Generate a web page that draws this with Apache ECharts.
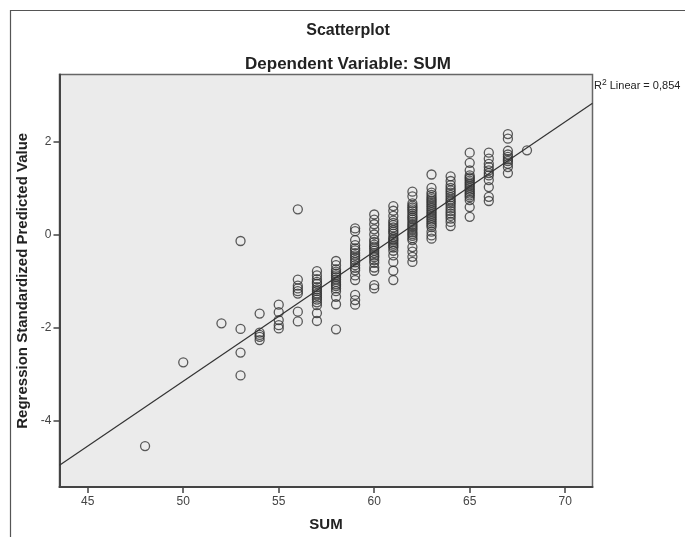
<!DOCTYPE html>
<html>
<head>
<meta charset="utf-8">
<title>Scatterplot</title>
<script src="https://cdn.jsdelivr.net/npm/echarts@6/dist/echarts.min.js"></script>
<style>
    html, body { margin: 0; padding: 0; background: #fff; }
    #chart { width: 685px; height: 537px; }
</style>
</head>
<body>
<div id="chart"></div>
<script>
// SUM score levels and the standardized predicted values at each level
var sumLevels = [48, 50, 52, 53, 54, 55, 56, 57, 58, 59, 60, 61, 62, 63, 64, 65, 66, 67, 68];
var predictedValues = [
    [-4.55],
    [-2.75],
    [-1.91],
    [-0.14, -2.03, -2.54, -3.03],
    [-1.70, -2.11, -2.16, -2.20, -2.27],
    [-1.51, -1.67, -1.84, -1.95, -2.02],
    [0.54, -0.97, -1.10, -1.16, -1.22, -1.27, -1.66, -1.87],
    [-0.79, -0.88, -0.96, -1.02, -1.06, -1.13, -1.18, -1.22, -1.27, -1.31, -1.36, -1.40, -1.46, -1.52, -1.69, -1.86],
    [-0.57, -0.66, -0.75, -0.80, -0.84, -0.88, -0.92, -0.97, -1.02, -1.07, -1.11, -1.16, -1.22, -1.34, -1.50, -2.04],
    [0.13, 0.07, -0.12, -0.23, -0.30, -0.34, -0.40, -0.45, -0.50, -0.55, -0.60, -0.66, -0.72, -0.77, -0.88, -0.98, -1.30, -1.41, -1.51],
    [0.43, 0.32, 0.22, 0.11, 0.00, -0.11, -0.16, -0.22, -0.26, -0.30, -0.35, -0.40, -0.45, -0.49, -0.55, -0.61, -0.71, -0.78, -1.09, -1.16],
    [0.61, 0.51, 0.40, 0.30, 0.25, 0.20, 0.15, 0.10, 0.06, 0.02, -0.05, -0.09, -0.12, -0.16, -0.20, -0.24, -0.28, -0.35, -0.45, -0.59, -0.78, -0.98],
    [0.92, 0.82, 0.67, 0.62, 0.58, 0.54, 0.50, 0.45, 0.40, 0.36, 0.32, 0.27, 0.22, 0.18, 0.14, 0.10, 0.05, 0.01, -0.03, -0.08, -0.12, -0.27, -0.37, -0.48, -0.59],
    [1.29, 1.00, 0.90, 0.85, 0.80, 0.76, 0.72, 0.68, 0.64, 0.60, 0.56, 0.52, 0.48, 0.44, 0.40, 0.36, 0.32, 0.28, 0.24, 0.20, 0.16, 0.06, -0.02, -0.09],
    [1.25, 1.15, 1.06, 1.00, 0.95, 0.90, 0.85, 0.80, 0.75, 0.71, 0.67, 0.62, 0.56, 0.50, 0.45, 0.40, 0.34, 0.27, 0.18],
    [1.76, 1.54, 1.38, 1.27, 1.23, 1.20, 1.16, 1.12, 1.08, 1.04, 1.00, 0.96, 0.92, 0.88, 0.84, 0.80, 0.74, 0.59, 0.38],
    [1.76, 1.63, 1.52, 1.45, 1.38, 1.32, 1.27, 1.17, 1.02, 0.81, 0.72],
    [2.16, 2.06, 1.80, 1.72, 1.67, 1.62, 1.58, 1.52, 1.45, 1.32],
    [1.81]
];
// fit line end points, read at the plot edges
var fitSum = [43.52, 71.43];
var fitPredicted = [-4.96, 2.82];

var xTicks = [45, 50, 55, 60, 65, 70];
var yTicks = [-4, -2, 0, 2];

var fontFamily = "'Liberation Sans', Arial, sans-serif";

var points = [];
sumLevels.forEach(function (s, i) {
    predictedValues[i].forEach(function (v) {
        points.push([s, v]);
    });
});

var chart = echarts.init(document.getElementById('chart'));
chart.setOption({
    animation: false,
    textStyle: { fontFamily: fontFamily },
    title: [
        {
            text: 'Scatterplot',
            left: 343,
            top: 18,
            textAlign: 'center',
            textStyle: { fontSize: 16, fontWeight: 'bold', color: '#222', fontFamily: fontFamily }
        },
        {
            text: 'Dependent Variable: SUM',
            left: 343,
            top: 51,
            textAlign: 'center',
            textStyle: { fontSize: 17, fontWeight: 'bold', color: '#222', fontFamily: fontFamily }
        }
    ],
    graphic: [
        {
            type: 'rect',
            shape: { x: 10.5, y: 10.5, width: 700, height: 600 },
            style: { fill: 'none', stroke: '#555', lineWidth: 1.2 },
            silent: true
        },
        {
            type: 'text',
            left: 594,
            top: 78,
            style: {
                text: '{b|R}{sup|2}{b| Linear = 0,854}',
                rich: {
                    b: { fontSize: 11, fill: '#222', fontFamily: fontFamily },
                    sup: { fontSize: 8.5, fill: '#222', fontFamily: fontFamily, verticalAlign: 'top', padding: [0, 0, 6, 0] }
                }
            }
        }
    ],
    grid: {
        left: 59.5,
        right: 92.5,
        top: 74.5,
        bottom: 49.7,
        show: true,
        backgroundColor: '#ebebeb',
        borderColor: '#666',
        borderWidth: 1.5
    },
    xAxis: {
        type: 'value',
        min: 43.52,
        max: 71.43,
        name: 'SUM',
        nameLocation: 'middle',
        nameGap: 30,
        nameTextStyle: { fontSize: 15, fontWeight: 'bold', color: '#222' },
        splitLine: { show: false },
        axisLine: { show: true, onZero: false, lineStyle: { color: '#444', width: 2 } },
        axisTick: { show: true, length: 6, customValues: xTicks, lineStyle: { color: '#444', width: 1.5 } },
        axisLabel: { customValues: xTicks, color: '#444', fontSize: 12, margin: 9 }
    },
    yAxis: {
        type: 'value',
        min: -5.43,
        max: 3.44,
        name: 'Regression Standardized Predicted Value',
        nameLocation: 'middle',
        nameGap: 28,
        nameTextStyle: { fontSize: 15, fontWeight: 'bold', color: '#222' },
        splitLine: { show: false },
        axisLine: { show: true, onZero: false, lineStyle: { color: '#444', width: 2 } },
        axisTick: { show: true, length: 6, customValues: yTicks, lineStyle: { color: '#444', width: 1.5 } },
        axisLabel: { customValues: yTicks, color: '#444', fontSize: 12, margin: 8 }
    },
    series: [
        {
            type: 'line',
            data: [[fitSum[0], fitPredicted[0]], [fitSum[1], fitPredicted[1]]],
            showSymbol: false,
            symbol: 'none',
            lineStyle: { color: '#333', width: 1.2 },
            z: 3
        },
        {
            type: 'scatter',
            data: points,
            symbol: 'circle',
            symbolSize: 9,
            itemStyle: { color: 'rgba(0,0,0,0)', borderColor: '#333', borderWidth: 1.3 },
            z: 2
        }
    ]
});
</script>
</body>
</html>
